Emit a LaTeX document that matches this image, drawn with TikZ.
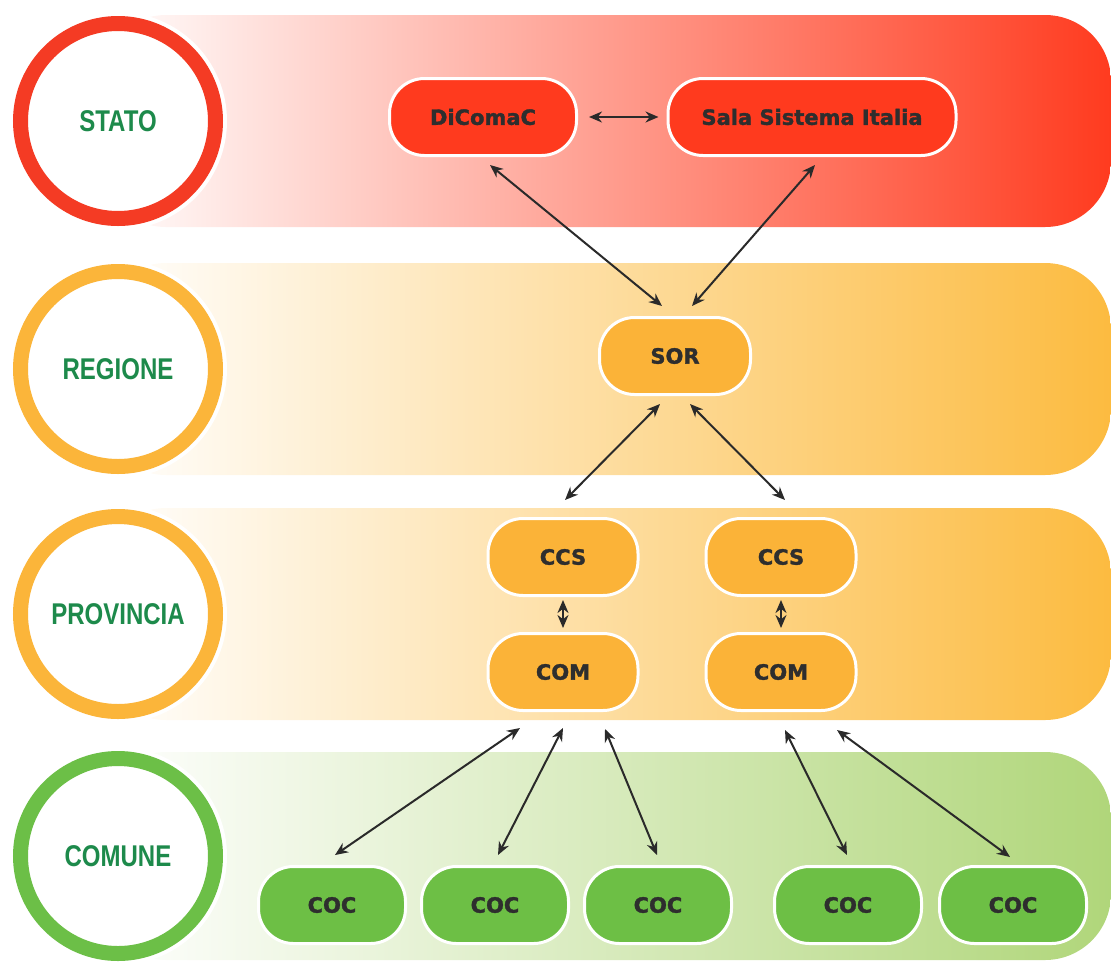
\documentclass[tikz,border=0pt]{standalone}
\usepackage{fontspec}
\usetikzlibrary{arrows.meta,calc}
\newfontfamily\lblfont[FakeStretch=0.8]{Liberation Sans}
\newfontfamily\boxfont[RawFeature={embolden=1.6}]{DejaVu Sans Bold}
\definecolor{redA}{HTML}{F43B24}
\definecolor{redN}{HTML}{FF3A1E}
\definecolor{redB}{HTML}{FF3B1F}
\definecolor{orA}{HTML}{FBB53A}
\definecolor{orN}{HTML}{FBB338}
\definecolor{orB}{HTML}{FCBB40}
\definecolor{grA}{HTML}{6CBF47}
\definecolor{grN}{HTML}{6DBF45}
\definecolor{grB}{HTML}{B0D67A}
\definecolor{lblgreen}{HTML}{1D8A4B}
\definecolor{txt}{HTML}{2E2E2E}
\definecolor{arr}{HTML}{2A2A2A}
\tikzset{
  pill/.style={rectangle, rounded corners=35pt, draw=white, line width=3pt,
    minimum width=147pt, minimum height=77pt, inner sep=0pt,
    font=\boxfont\fontsize{21}{25}\selectfont, text=txt},
  lvl/.style={circle, fill=white, line width=15pt, minimum size=195pt, inner sep=0pt,
    font=\lblfont\bfseries\fontsize{30}{36}\selectfont, text=lblgreen},
  conn/.style={draw=arr, line width=2pt, >={Stealth[length=13pt,width=11pt]}, <->},
  band/.style={rounded corners=66pt, left color=white}
}
\begin{document}
\begin{tikzpicture}[x=1pt,y=-1pt]
\useasboundingbox (0,0) rectangle (1111,962);
% bands
\shade[band, right color=redB] (100,15) rectangle (1111,227);
\shade[band, right color=orB] (100,263) rectangle (1111,475);
\shade[band, right color=orB] (100,508) rectangle (1111,720);
\shade[band, right color=grB] (100,752) rectangle (1111,960);
% level circles
\fill[white] (118,121) circle (109);
\fill[white] (118,369) circle (109);
\fill[white] (118,614) circle (109);
\fill[white] (118,856) circle (109);
\node[lvl, draw=redA] (stato) at (118,121) {STATO};
\node[lvl, draw=orA] (regione) at (118,369) {REGIONE};
\node[lvl, draw=orA] (provincia) at (118,614) {PROVINCIA};
\node[lvl, draw=grA] (comune) at (118,856) {COMUNE};
% nodes
\node[pill, fill=redN, minimum width=187pt] (dicomac) at (483,117) {DiComaC};
\node[pill, fill=redN, minimum width=288pt] (sala) at (812,117) {Sala Sistema Italia};
\node[pill, fill=orN, minimum width=151pt] (sor) at (675,356) {SOR};
\node[pill, fill=orN, minimum width=150pt] (ccsA) at (563,557) {CCS};
\node[pill, fill=orN, minimum width=150pt] (ccsB) at (781,557) {CCS};
\node[pill, fill=orN, minimum width=150pt] (comA) at (563,672) {COM};
\node[pill, fill=orN, minimum width=150pt] (comB) at (781,672) {COM};
\node[pill, fill=grN] (cocA) at (332,905) {COC};
\node[pill, fill=grN] (cocB) at (495,905) {COC};
\node[pill, fill=grN] (cocC) at (658,905) {COC};
\node[pill, fill=grN] (cocD) at (848,905) {COC};
\node[pill, fill=grN] (cocE) at (1013,905) {COC};
% connectors
\draw[conn] ($(dicomac.east)+(11,0)$) -- ($(sala.west)+(-8,0)$);
\draw[conn] ($(dicomac.south)+(7,8)$) -- ($(sor.north)+(-13,-10)$);
\draw[conn] ($(sala.south)+(3,8)$) -- ($(sor.north)+(17,-10)$);
\draw[conn] ($(sor.south)+(-15,8)$) -- ($(ccsA.north)+(2,-17)$);
\draw[conn] ($(sor.south)+(15,8)$) -- ($(ccsB.north)+(4,-17)$);
\draw[conn] ($(ccsA.south)+(0,3)$) -- ($(comA.north)+(0,-4)$);
\draw[conn] ($(ccsB.south)+(0,3)$) -- ($(comB.north)+(0,-4)$);
\draw[conn] ($(comA.south)+(-43,16)$) -- ($(cocA.north)+(3,-10)$);
\draw[conn] ($(comA.south)+(0,16)$) -- ($(cocB.north)+(3,-10)$);
\draw[conn] ($(comA.south)+(42,17)$) -- ($(cocC.north)+(-1,-10)$);
\draw[conn] ($(comB.south)+(4,18)$) -- ($(cocD.north)+(-1,-10)$);
\draw[conn] ($(comB.south)+(56,18)$) -- ($(cocE.north)+(-3,-8)$);
\end{tikzpicture}
\end{document}
